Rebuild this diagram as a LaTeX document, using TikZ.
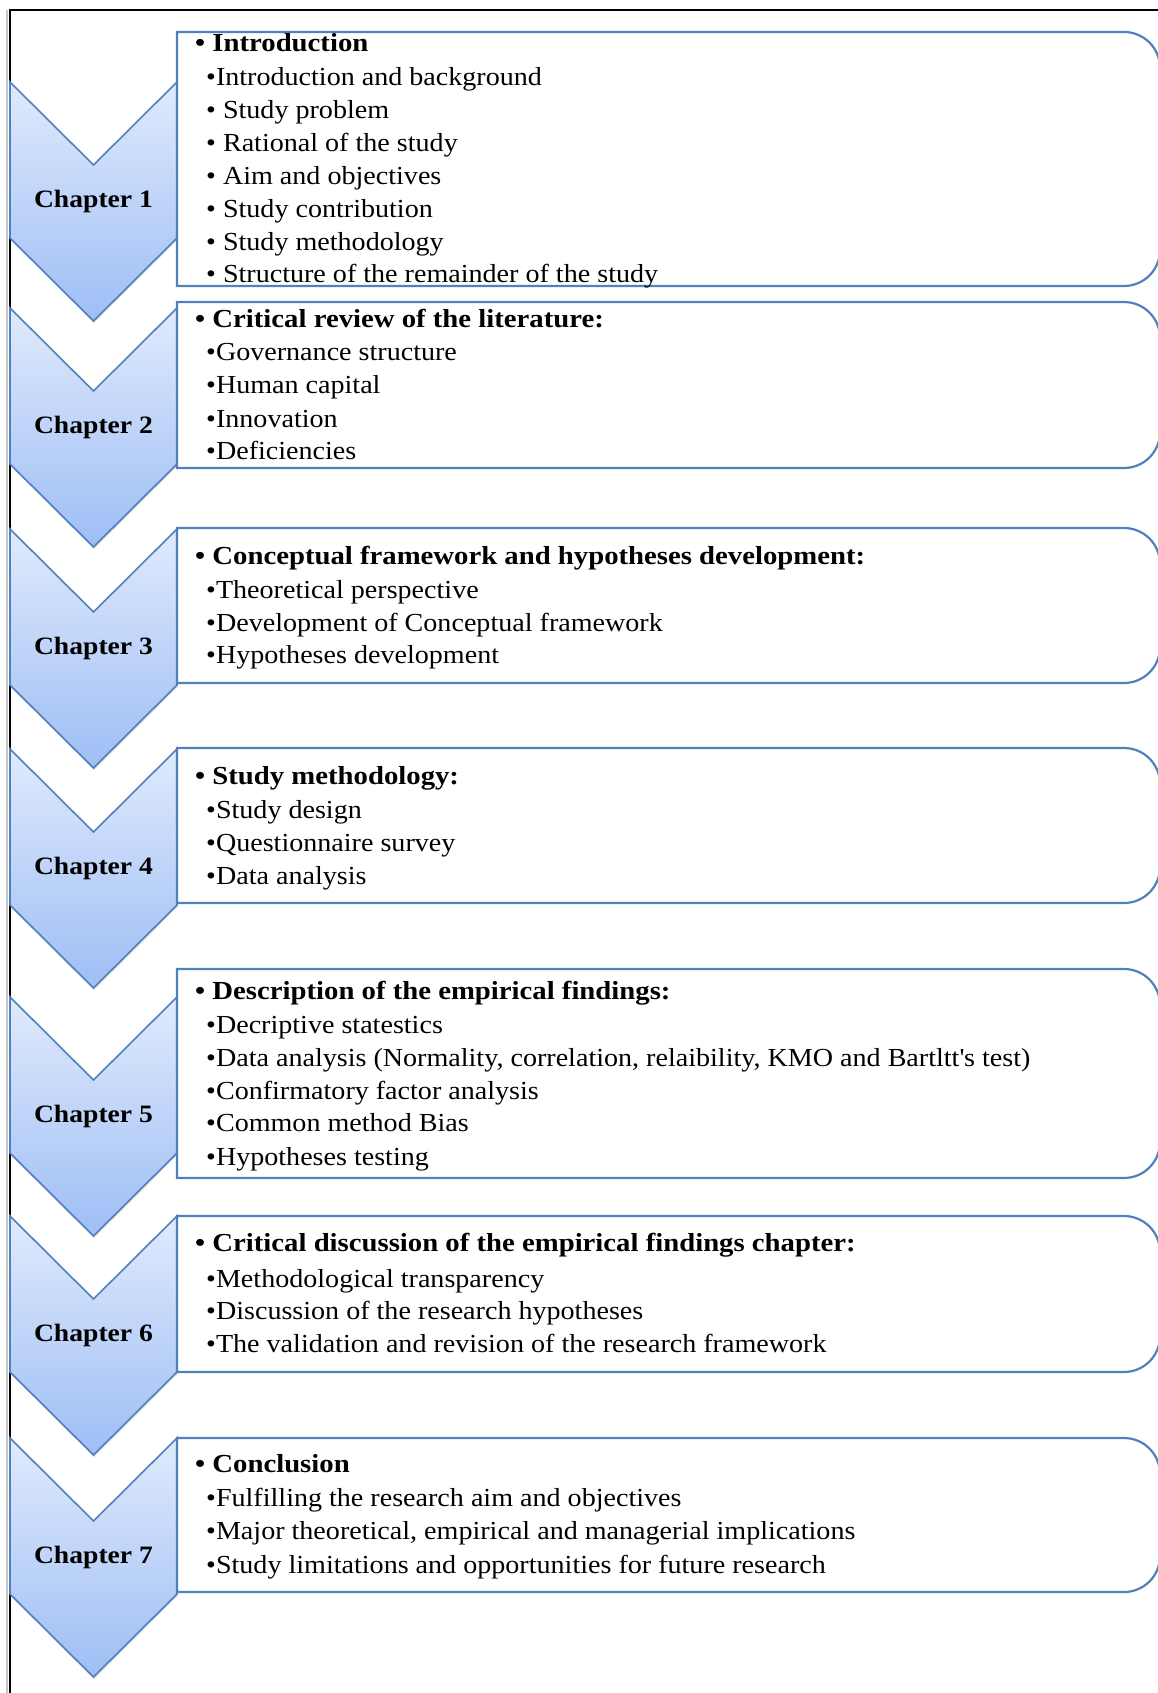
\documentclass[tikz,border=0pt]{standalone}
\usepackage{fontspec}
\setmainfont{Liberation Serif}[FakeStretch=1.08, BoldFeatures={FakeStretch=1.105}]
\usetikzlibrary{shadows}
\definecolor{cborder}{RGB}{79,129,189}
\definecolor{ctop}{RGB}{224,234,252}
\definecolor{cbot}{RGB}{158,190,245}
\begin{document}
\begin{tikzpicture}[x=1pt,y=-1pt,
  chev/.style={draw=cborder, line width=1.6pt, top color=ctop, bottom color=cbot, line join=miter,
    drop shadow={opacity=0.25, shadow xshift=0.5pt, shadow yshift=-2pt}},
  boxst/.style={draw=cborder, line width=2.2pt, fill=white},
  chlabel/.style={font=\bfseries\fontsize{25}{30}\selectfont, inner sep=0pt},
  head/.style={anchor=base west, inner sep=0pt, font=\bfseries\fontsize{26}{30}\selectfont},
  item/.style={anchor=base west, inner sep=0pt, font=\fontsize{26}{30}\selectfont}]
\useasboundingbox (0,0) rectangle (1158,1693);
\fill[white] (0,0) rectangle (1158,1693);
\clip (0,0) rectangle (1158,1693);
% frame
\draw[gray!45, line width=2pt] (7,10) -- (7,1693);
\draw[black, line width=1.6pt] (10,1693) -- (10,10) -- (1158,10);
% chevrons
\foreach \T/\n in {82/1, 308/2, 529/3, 749/4, 997/5, 1216/6, 1438/7}{
  \draw[chev] (10,\T) -- (93.5,\T+83) -- (177,\T) -- (177,\T+156) -- (93.5,\T+239) -- (10,\T+156) -- cycle;
  \node[chlabel] (ch\n) at (93.5,\T+119.5) {Chapter \n};
}
% boxes
\foreach \t/\b/\n in {32/286/1, 302/468/2, 528/683/3, 748/903/4, 969/1178/5, 1216/1372/6, 1438/1592/7}{
  \draw[boxst] (177,\t) -- (1124,\t) arc[start angle=-90, end angle=0, radius=36]
     -- (1160,\b-36) arc[start angle=0, end angle=90, radius=36] -- (177,\b) -- cycle;
}
% box 1
\node[head] (h1) at (195,52) {• Introduction};
\node[item] (i11) at (206,85.5) {•Introduction and background};
\node[item] (i12) at (206,118.5) {• Study problem};
\node[item] (i13) at (206,152) {• Rational of the study};
\node[item] (i14) at (206,184.5) {• Aim and objectives};
\node[item] (i15) at (206,217.5) {• Study contribution};
\node[item] (i16) at (206,250.5) {• Study methodology};
\node[item] (i17) at (206,282.5) {• Structure of the remainder of the study};
% box 2
\node[head] (h2) at (195,327.5) {• Critical review of the literature:};
\node[item] (i21) at (206,360.5) {•Governance structure};
\node[item] (i22) at (206,393.5) {•Human capital};
\node[item] (i23) at (206,427.5) {•Innovation};
\node[item] (i24) at (206,459.5) {•Deficiencies};
% box 3
\node[head] (h3) at (195,564.5) {• Conceptual framework and hypotheses development:};
\node[item] (i31) at (206,598.5) {•Theoretical perspective};
\node[item] (i32) at (206,631.5) {•Development of Conceptual framework};
\node[item] (i33) at (206,663.5) {•Hypotheses development};
% box 4
\node[head] (h4) at (195,784.5) {• Study methodology:};
\node[item] (i41) at (206,818.5) {•Study design};
\node[item] (i42) at (206,851.5) {•Questionnaire survey};
\node[item] (i43) at (206,884.5) {•Data analysis};
% box 5
\node[head] (h5) at (195,999.5) {• Description of the empirical findings:};
\node[item] (i51) at (206,1033.5) {•Decriptive statestics};
\node[item] (i52) at (206,1066.5) {•Data analysis (Normality, correlation, relaibility, KMO and Bartltt\textquotesingle s test)};
\node[item] (i53) at (206,1099.5) {•Confirmatory factor analysis};
\node[item] (i54) at (206,1131.5) {•Common method Bias};
\node[item] (i55) at (206,1165.5) {•Hypotheses testing};
% box 6
\node[head] (h6) at (195,1251.5) {• Critical discussion of the empirical findings chapter:};
\node[item] (i61) at (206,1287.5) {•Methodological transparency};
\node[item] (i62) at (206,1319.5) {•Discussion of the research hypotheses};
\node[item] (i63) at (206,1352.5) {•The validation and revision of the research framework};
% box 7
\node[head] (h7) at (195,1472.5) {• Conclusion};
\node[item] (i71) at (206,1506.5) {•Fulfilling the research aim and objectives};
\node[item] (i72) at (206,1539.5) {•Major theoretical, empirical and managerial implications};
\node[item] (i73) at (206,1573.5) {•Study limitations and opportunities for future research};
\end{tikzpicture}
\end{document}
